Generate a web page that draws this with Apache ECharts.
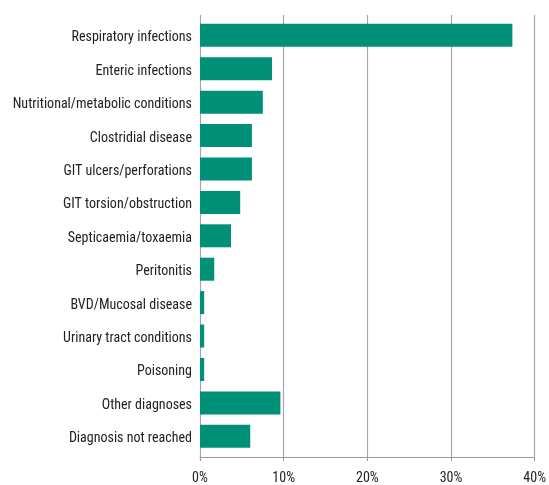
<!DOCTYPE html>
<html><head><meta charset="utf-8">
<script src="https://cdn.jsdelivr.net/npm/echarts@6/dist/echarts.min.js"></script>
<style>html,body{margin:0;padding:0;background:#fff}#c{width:549px;height:485px}</style>
</head><body><div id="c"></div>
<script>
const categories = ["Respiratory infections","Enteric infections","Nutritional/metabolic conditions","Clostridial disease","GIT ulcers/perforations","GIT torsion/obstruction","Septicaemia/toxaemia","Peritonitis","BVD/Mucosal disease","Urinary tract conditions","Poisoning","Other diagnoses","Diagnosis not reached"];
const values = [37.3, 8.6, 7.5, 6.2, 6.2, 4.8, 3.7, 1.7, 0.5, 0.5, 0.5, 9.6, 6.0];
const xTicks = [0, 10, 20, 30, 40];

const FONT = '"Liberation Sans Narrow", "Roboto Condensed", "Liberation Sans", sans-serif';
const chart = echarts.init(document.getElementById('c'));
chart.setOption({
  animation: false,
  grid: [
    {left: 200, right: 14, top: 15, bottom: 23},
    {left: 200, right: 14, top: 18.6, bottom: 32}
  ],
  xAxis: [
    {gridIndex: 0, type: 'value', min: xTicks[0], max: xTicks[xTicks.length-1], interval: 10,
     axisLine: {show: true, lineStyle: {color: '#999', width: 1}},
     axisTick: {show: true, length: 4, lineStyle: {color: '#999'}},
     splitLine: {show: true, lineStyle: {color: '#a6a6a6', width: 1.2}},
     axisLabel: {formatter: v => v + '%', color: '#222', fontSize: 14, fontFamily: FONT, margin: 14}},
    {gridIndex: 1, type: 'value', min: xTicks[0], max: xTicks[xTicks.length-1], show: false}
  ],
  yAxis: [
    {gridIndex: 0, type: 'value', show: false},
    {gridIndex: 1, type: 'category', data: categories, inverse: true,
     axisLine: {show: false}, axisTick: {show: false},
     axisLabel: {margin: 8, formatter: v => '{a|' + v + '}',
       rich: {a: {color: '#222', fontSize: 14, fontFamily: FONT, padding: [5, 0, 0, 0]}}}}
  ],
  series: [{
    type: 'bar', xAxisIndex: 1, yAxisIndex: 1, data: values, barWidth: 23,
    itemStyle: {color: '#009077'}
  }]
});
</script></body></html>
